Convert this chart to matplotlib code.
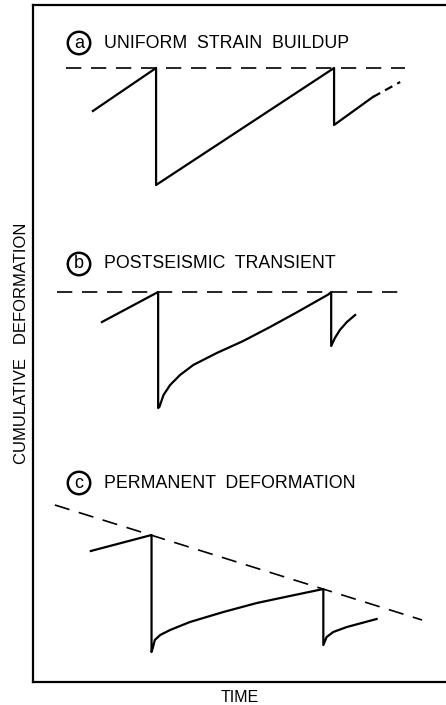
import matplotlib.pyplot as plt

plt.rcParams['font.family'] = ['Liberation Sans', 'DejaVu Sans']
plt.rcParams['lines.scale_dashes'] = False

W, H = 446, 705

# time axis shared by all three panels (arbitrary units)
T_MIN, T_MAX = 0.0, 10.0

# (a) uniform strain buildup
a_ref_t = [0.80, 9.01]
a_ref_d = [0.0, 0.0]
a_t = [1.45, 2.98, 2.98, 7.29, 7.29, 8.23]
a_d = [-4.3, 0.0, -11.7, 0.0, -5.7, -2.9]
a_next_t = [8.23, 8.89]
a_next_d = [-2.9, -1.4]

# (b) postseismic transient
b_ref_t = [0.58, 8.96]
b_ref_d = [0.0, 0.0]
b_t = [1.67, 3.03, 3.03, 3.06, 3.16, 3.32, 3.56, 3.88, 4.45, 5.09, 5.74, 6.38,
       7.15, 7.22, 7.22, 7.31, 7.43, 7.60, 7.80]
b_d = [-3.0, 0.0, -11.6, -11.5, -10.3, -9.3, -8.3, -7.3, -6.1, -4.9, -3.5, -2.05,
       -0.25, 0.0, -5.4, -4.6, -3.8, -3.0, -2.3]

# (c) permanent deformation
c_ref_t = [0.53, 9.42]
c_ref_d = [3.0, -8.5]
c_t = [1.40, 2.87, 2.87, 2.90, 2.95, 3.08, 3.32, 3.80, 4.61, 5.42, 6.22, 7.03,
       7.03, 7.11, 7.27, 7.60, 8.32]
c_d = [-1.6, 0.0, -11.7, -11.3, -10.5, -10.0, -9.5, -8.7, -7.7, -6.8, -6.1, -5.4,
       -11.0, -10.2, -9.7, -9.2, -8.4]

panels = [
    ('a', 'UNIFORM  STRAIN  BUILDUP', a_ref_t, a_ref_d, a_t, a_d, (-13.2, 4.8)),
    ('b', 'POSTSEISMIC  TRANSIENT', b_ref_t, b_ref_d, b_t, b_d, (-12.8, 5.2)),
    ('c', 'PERMANENT  DEFORMATION', c_ref_t, c_ref_d, c_t, c_d, (-13.5, 6.5)),
]
# pixel bands (top, bottom) of each panel and label centre heights
bands = [(20, 200), (240, 420), (470, 670)]
label_y = [43, 264, 483]

fig = plt.figure(figsize=(W / 100, H / 100), dpi=100)

left, right = 33, W
frame = fig.add_axes([left / W, (H - 682) / H, (right - left) / W, (682 - 5) / H])
frame.set_xlim(T_MIN, T_MAX)
frame.set_xticks([])
frame.set_yticks([])
frame.spines['right'].set_visible(False)
for s in ['left', 'top', 'bottom']:
    frame.spines[s].set_linewidth(1.6)
frame.set_xlabel('TIME', fontsize=11.5, labelpad=5.5)
frame.set_ylabel('CUMULATIVE   DEFORMATION', fontsize=12, labelpad=3)

for (letter, title, rt, rd, t, d, ylim), (top, bot), ly in zip(panels, bands, label_y):
    ax = fig.add_axes([left / W, (H - bot) / H, (right - left) / W, (bot - top) / H])
    ax.set_xlim(T_MIN, T_MAX)
    ax.set_ylim(*ylim)
    ax.axis('off')
    ax.plot(rt, rd, color='black', lw=1.2, dashes=(11, 7))
    ax.plot(t, d, color='black', lw=1.6, solid_joinstyle='round')
    if letter == 'a':
        ax.plot(a_next_t, a_next_d, color='black', lw=1.6, dashes=(6, 4))
    fig.text(79 / W, 1 - ly / H, letter, fontsize=13, ha='center', va='center',
             bbox=dict(boxstyle='circle,pad=0.15', fc='none', ec='black', lw=1.8))
    fig.text(104 / W, 1 - ly / H, title, fontsize=12.8, ha='left', va='center')

fig.savefig('out.png', dpi=100)
